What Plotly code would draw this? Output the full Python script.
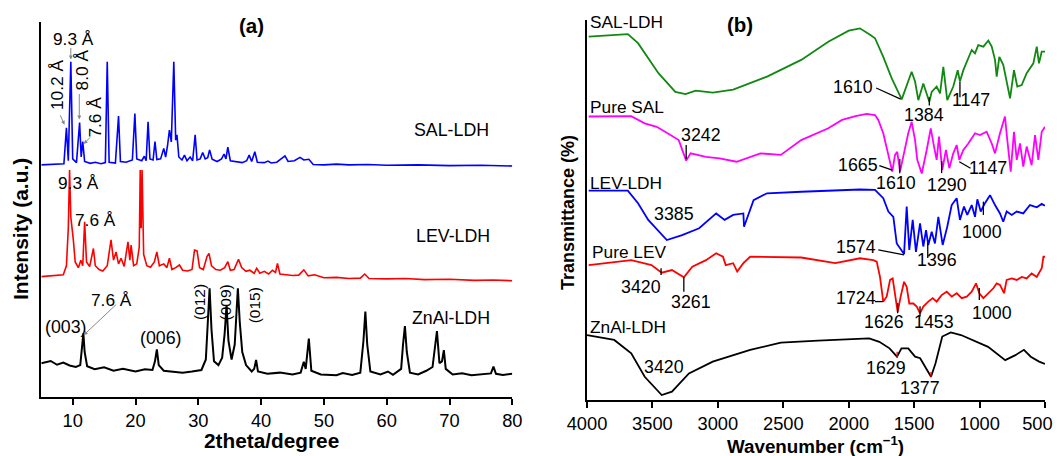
import plotly.graph_objects as go

# ---------------- Panel (a): XRD (2theta, relative intensity with offsets) ----------------
sal_ldh_x = [5, 8.6, 9.0, 9.3, 9.7, 10.0, 10.6, 11.1, 11.35, 11.6, 11.9, 12.8, 13.6, 14.5, 15.2, 15.5, 15.8,
             16.8, 17.3, 17.6, 18.5, 19.5, 19.9, 20.2, 21.0, 21.4, 21.7, 22.0, 22.3, 22.8, 23.1, 23.4, 24.0,
             24.5, 24.8, 25.1, 25.4, 25.7, 26.1, 26.4, 26.6, 26.9, 27.4, 27.8, 28.2, 28.7, 29.1, 29.5, 29.8,
             30.3, 30.7, 31.1, 31.5, 31.8, 32.2, 33.0, 33.7, 34.1, 34.4, 34.7, 35.1, 36.0, 37.0, 37.7, 38.1,
             38.5, 39.0, 39.4, 40.5, 41.1, 41.6, 42.5, 43.8, 44.3, 45.3, 46.2, 46.8, 47.6, 48.3, 50, 52, 54,
             57, 60, 65, 70, 75, 80]
sal_ldh_y = [61.9, 62.2, 71.8, 63.0, 89.4, 63.5, 62.5, 73.2, 64.0, 68.1, 62.8, 62.3, 62.6, 62.2, 62.5, 89.4, 62.6,
             62.4, 74.9, 62.8, 62.6, 63.2, 75.6, 63.5, 63.0, 64.2, 63.0, 73.4, 63.5, 63.2, 68.1, 63.3, 63.5,
             66.3, 64.0, 67.0, 71.2, 68.0, 89.4, 68.5, 69.9, 64.0, 63.2, 64.5, 63.0, 64.0, 63.0, 69.9, 63.2,
             63.5, 65.2, 63.5, 63.8, 65.9, 63.4, 62.8, 63.5, 64.8, 63.5, 66.6, 63.0, 62.8, 62.5, 63.0, 64.5,
             62.8, 65.4, 62.6, 62.5, 62.9, 62.4, 62.6, 64.3, 62.8, 63.0, 63.9, 63.2, 63.4, 62.0, 61.9, 62.1, 61.9,
             62.0, 61.8, 61.9, 61.7, 61.8, 61.6]

lev_ldh_x = [5, 7, 8.5, 9.0, 9.3, 9.5, 9.7, 10.1, 10.4, 10.9, 11.3, 11.6, 11.9, 12.2, 12.7, 13.3, 13.6, 14.2,
             14.8, 15.5, 16.1, 16.5, 16.9, 17.3, 17.7, 18.2, 18.8, 19.1, 19.3, 19.7, 20.2, 20.6, 20.75, 20.9,
             21.05, 21.3, 21.8, 22.4, 23.0, 23.4, 23.8, 24.5, 25.0, 25.4, 25.8, 26.4, 27.0, 27.5, 28.3, 29.0,
             29.4, 29.8, 30.2, 30.8, 31.4, 31.7, 32.1, 32.8, 33.5, 34.2, 34.7, 35.1, 35.7, 36.4, 36.9, 37.6,
             38.2, 38.9, 39.3, 39.8, 40.5, 41.2, 41.8, 42.3, 42.6, 43.0, 44.0, 45.0, 46.0, 46.8, 47.5, 48.5,
             50, 52, 54, 55.8, 56.5, 57.2, 60, 63, 66, 70, 74, 77, 80]
lev_ldh_y = [32.1, 32.3, 32.6, 35.0, 45.0, 60.5, 48.0, 41.9, 36.0, 34.5, 36.5, 35.0, 46.7, 36.0, 34.8, 39.6, 35.0, 34.0,
             33.6, 35.0, 41.9, 36.5, 38.7, 35.5, 37.0, 34.8, 41.4, 36.5, 40.5, 35.0, 35.5, 40.0, 60.5, 45.0,
             60.5, 38.0, 35.0, 34.6, 36.0, 38.7, 35.0, 35.5, 34.5, 37.0, 34.0, 34.5, 35.2, 33.8, 33.6, 34.0,
             39.2, 39.0, 34.5, 34.0, 37.5, 38.3, 35.0, 34.0, 33.8, 34.5, 36.1, 33.8, 34.0, 36.7, 34.5, 33.5,
             33.8, 33.0, 34.3, 33.0, 33.5, 32.8, 33.8, 33.2, 35.6, 32.8, 32.6, 32.4, 32.5, 33.9, 32.3, 32.6,
             31.8, 31.9, 31.6, 31.7, 32.8, 31.6, 31.5, 31.6, 31.3, 31.4, 31.1, 31.2, 31.0]

znal_x = [5, 6.5, 7.5, 8.5, 9.5, 10.5, 11.2, 11.5, 11.7, 11.9, 12.3, 13.5, 15, 16.5, 18, 20, 21.5, 22.7, 23.1,
          23.4, 23.7, 24.5, 26, 27.5, 29, 30.5, 31.2, 31.5, 31.8, 32.1, 32.5, 33.2, 33.8, 34.2, 34.5, 34.8,
          35.3, 35.8, 36.1, 36.3, 36.6, 37.0, 37.6, 38.5, 38.9, 39.2, 39.5, 41, 43, 45, 46.3, 46.8, 47.1,
          47.6, 48.0, 49.5, 52, 53, 54.5, 55.8, 56.3, 56.6, 56.9, 57.4, 59, 60.2, 61, 62.3, 62.6, 62.9, 63.2,
          63.7, 65, 66.3, 67.3, 67.7, 68.0, 68.4, 68.8, 69.1, 69.4, 70.5, 72, 73.5, 75, 76.6, 77.0, 77.4,
          78.5, 80]
znal_y = [9.0, 9.6, 8.6, 9.2, 8.4, 8.0, 8.5, 13.0, 17.0, 12.0, 8.2, 7.4, 7.9, 7.0, 7.5, 6.8, 7.4, 7.2, 9.5,
          12.7, 8.5, 7.0, 6.8, 6.5, 6.8, 7.2, 10.0, 20.0, 29.0, 18.0, 9.5, 8.5, 10.5, 17.0, 24.5, 15.0,
          10.0, 14.0, 24.0, 29.0, 20.0, 12.0, 8.5, 6.8, 7.5, 9.9, 6.8, 6.2, 6.5, 6.0, 6.5, 9.4, 7.5,
          15.6, 7.0, 6.0, 5.8, 6.4, 5.9, 6.5, 15.0, 22.8, 14.0, 6.8, 6.0, 6.8, 5.9, 7.5, 14.0, 18.9, 12.0,
          6.5, 6.0, 7.0, 8.0, 14.0, 17.6, 9.0, 9.5, 12.5, 7.5, 6.0, 6.3, 5.8, 6.1, 6.3, 8.1, 6.2,
          5.9, 6.2]

# ---------------- Panel (b): FTIR (wavenumber, transmittance with offsets) ----------------
sal_ldh_ir_x = [3987, 3688, 3610, 3454, 3325, 3247, 3169, 3039, 2883, 2624, 2363, 2156, 2000, 1914, 1837, 1799,
                1736, 1672, 1595, 1557, 1519, 1493, 1468, 1430, 1404, 1384, 1366, 1328, 1302, 1277, 1247, 1201,
                1167, 1150, 1124, 1060, 1035, 1010, 971, 933, 907, 882, 869, 849, 819, 793, 767, 737, 712,
                678, 640, 589, 563, 546, 525, 500]
sal_ldh_ir_y = [95.6, 96.3, 93.9, 86.0, 81.1, 80.5, 81.4, 80.9, 81.7, 85.1, 89.5, 94.3, 97.2, 97.8, 96.1, 95.2,
                90.3, 84.7, 79.1, 82.5, 86.4, 83.8, 78.9, 83.3, 80.7, 78.5, 81.1, 82.5, 80.7, 87.7, 78.9, 82.5,
                86.8, 83.8, 86.8, 92.1, 91.2, 93.4, 93.0, 94.6, 93.0, 89.5, 85.1, 90.3, 88.2, 83.8, 79.4, 86.8, 82.5,
                82.9, 86.0, 88.6, 93.0, 88.6, 91.7, 91.7]

pure_sal_x = [3987, 3662, 3559, 3468, 3403, 3299, 3242, 3208, 3091, 2987, 2857, 2675, 2519, 2363, 2156, 2051,
              1948, 1914, 1863, 1799, 1774, 1736, 1697, 1667, 1646, 1629, 1608, 1570, 1545, 1519, 1493, 1476,
              1442, 1404, 1373, 1348, 1328, 1310, 1285, 1257, 1231, 1201, 1175, 1155, 1124, 1086, 1035, 997,
              946, 907, 882, 844, 806, 788, 762, 737, 716, 691, 666, 640, 602, 576, 551, 525, 500]
pure_sal_y = [74.6, 74.7, 72.8, 71.9, 70.6, 68.4, 63.0, 64.9, 64.0, 63.6, 62.7, 64.9, 64.5, 68.4, 71.5, 73.7,
              74.7, 75.0, 75.3, 75.0, 73.7, 70.2, 64.5, 60.1, 64.5, 65.3, 60.1, 65.8, 70.2, 73.2, 68.4, 63.2,
              59.6, 65.8, 71.5, 66.7, 63.2, 69.3, 60.5, 65.8, 61.0, 64.9, 67.1, 63.2, 65.8, 67.5, 70.2, 69.7,
              70.6, 67.5, 64.9, 70.2, 74.6, 68.4, 60.1, 70.6, 63.2, 67.5, 61.4, 66.7, 61.8, 69.7, 63.2, 70.6, 71.9]

lev_ldh_ir_x = [3987, 3688, 3610, 3532, 3390, 3273, 3143, 3013, 2948, 2883, 2805, 2800, 2727, 2624, 2363, 1914,
                1799, 1736, 1697, 1659, 1633, 1603, 1577, 1557, 1537, 1511, 1486, 1455, 1430, 1409, 1392, 1366,
                1341, 1315, 1282, 1247, 1213, 1175, 1150, 1119, 1094, 1060, 1035, 1017, 991, 959, 920, 882,
                844, 819, 793, 754, 716, 666, 615, 563, 525, 500]
lev_ldh_ir_y = [55.1, 55.1, 51.8, 47.4, 42.1, 43.4, 45.2, 49.1, 47.4, 48.7, 49.1, 45.6, 52.6, 54.4, 54.8, 55.4,
                55.3, 53.1, 49.6, 48.2, 41.2, 39.5, 38.4, 50.9, 39.5, 47.4, 39.0, 46.5, 40.4, 44.7, 40.8, 44.3,
                41.2, 48.2, 40.8, 45.6, 51.3, 53.1, 47.4, 50.9, 48.7, 51.3, 48.2, 52.8, 49.6, 51.8, 53.9, 51.3,
                49.1, 46.9, 49.6, 48.7, 49.6, 49.1, 51.3, 50.7, 51.6, 51.1]

pure_lev_x = [3987, 3662, 3507, 3429, 3351, 3260, 3195, 3091, 3013, 2961, 2940, 2883, 2852, 2805, 2753, 2363,
              2103, 1914, 1812, 1786, 1761, 1736, 1710, 1684, 1664, 1646, 1626, 1603, 1577, 1557, 1537, 1506,
              1480, 1455, 1430, 1392, 1358, 1328, 1290, 1251, 1213, 1175, 1137, 1098, 1060, 1027, 1002, 971,
              933, 895, 869, 844, 813, 793, 754, 716, 678, 640, 602, 563, 525, 512, 500]
pure_lev_y = [35.5, 36.8, 35.5, 33.5, 34.2, 32.3, 35.1, 36.8, 38.6, 37.7, 35.5, 36.0, 33.8, 36.0, 37.7, 37.5,
              36.0, 37.3, 36.8, 36.4, 32.4, 25.9, 27.2, 31.6, 32.0, 28.1, 23.2, 27.2, 31.1, 29.8, 25.4, 25.4,
              24.6, 22.8, 24.6, 25.9, 26.8, 25.9, 27.6, 28.5, 27.2, 28.1, 26.8, 27.2, 28.5, 30.7, 28.1, 26.8,
              28.1, 29.4, 30.7, 30.3, 28.1, 31.6, 32.0, 31.6, 32.4, 32.0, 33.3, 32.4, 34.7, 37.7, 37.7]

znal_ir_x = [4000, 3792, 3662, 3559, 3429, 3351, 3221, 3039, 2753, 2519, 2234, 1844, 1766, 1688, 1631, 1597,
             1545, 1493, 1454, 1402, 1371, 1337, 1285, 1220, 1142, 935, 804, 726, 661, 609, 545, 500]
znal_ir_y = [17.1, 15.8, 12.3, 6.1, 1.3, 2.2, 7.0, 10.1, 13.2, 15.1, 15.6, 16.2, 15.3, 13.6, 11.4, 13.6,
             13.6, 11.4, 11.0, 7.9, 6.1, 9.6, 16.7, 17.8, 17.1, 14.0, 10.5, 11.8, 13.2, 11.4, 10.1, 9.5]

xrd_ticks = [10, 20, 30, 40, 50, 60, 70, 80]
ir_ticks = [4000, 3500, 3000, 2500, 2000, 1500, 1000, 500]
ir_tick_text = ["4000", "3500", "3000", "2500", "2000", "1500", "1000", "500\u00a0\u00a0\u00a0"]

FONT = "Arial, Liberation Sans, sans-serif"
OFF = 8  # page body offset
W, H = 1062 - OFF, 456 - OFF

def px_x(p):
    return (p - OFF) / W

def px_y(p):
    return 1 - (p - OFF) / H

fig = go.Figure()
fig.add_trace(go.Scatter(x=sal_ldh_x, y=sal_ldh_y, mode="lines", line=dict(color="#0000ff", width=1.6), xaxis="x", yaxis="y"))
fig.add_trace(go.Scatter(x=lev_ldh_x, y=lev_ldh_y, mode="lines", line=dict(color="#ff0000", width=1.6), xaxis="x", yaxis="y"))
fig.add_trace(go.Scatter(x=znal_x, y=znal_y, mode="lines", line=dict(color="#000000", width=2.0), xaxis="x", yaxis="y"))

fig.add_trace(go.Scatter(x=sal_ldh_ir_x, y=sal_ldh_ir_y, mode="lines", line=dict(color="#118811", width=1.8), xaxis="x2", yaxis="y2"))
fig.add_trace(go.Scatter(x=pure_sal_x, y=pure_sal_y, mode="lines", line=dict(color="#ff00ff", width=1.8), xaxis="x2", yaxis="y2"))
fig.add_trace(go.Scatter(x=lev_ldh_ir_x, y=lev_ldh_ir_y, mode="lines", line=dict(color="#0000ff", width=1.8), xaxis="x2", yaxis="y2"))
fig.add_trace(go.Scatter(x=pure_lev_x, y=pure_lev_y, mode="lines", line=dict(color="#ff0000", width=1.8), xaxis="x2", yaxis="y2"))
fig.add_trace(go.Scatter(x=znal_ir_x, y=znal_ir_y, mode="lines", line=dict(color="#000000", width=1.8), xaxis="x2", yaxis="y2"))

ann = []
def txt(x, y, s, ref="1", size=17.8, angle=0, bold=False, xanchor="center", color="black"):
    ax_x = "x" if ref == "1" else "x2"
    ax_y = "y" if ref == "1" else "y2"
    ann.append(dict(x=x, y=y, xref=ax_x, yref=ax_y, text=f"<b>{s}</b>" if bold else s, showarrow=False,
                    textangle=angle, xanchor=xanchor, yanchor="middle",
                    font=dict(family=FONT, size=size, color=color)))

def arrow(x, y, dx, dy):
    ann.append(dict(x=x, y=y, xref="x", yref="y", text="", showarrow=True, ax=dx, ay=dy,
                    arrowhead=2, arrowsize=0.8, arrowwidth=1, arrowcolor="#888888"))

# panel (a) labels
txt(38.5, 99.2, "(a)", size=20.5, bold=True)
txt(70.3, 71.2, "SAL-LDH")
txt(70.6, 42.9, "LEV-LDH")
txt(70.3, 21.1, "ZnAl-LDH")
txt(10.1, 95.5, "9.3 Å", size=17.3)
txt(7.5, 83.2, "10.2 Å", size=17.3, angle=-90)
txt(11.55, 87.2, "8.0 Å", size=17.3, angle=-90)
txt(13.5, 74.7, "7.6 Å", size=17.3, angle=-90)
txt(11.0, 57.1, "9.3 Å", size=17.3)
txt(13.7, 47.2, "7.6 Å", size=17.3)
txt(16.1, 25.9, "7.6 Å", size=17.3)
txt(9.0, 18.7, "(003)")
txt(24.1, 15.7, "(006)")
txt(30.1, 25.3, "(012)", size=15.5, angle=-90)
txt(34.3, 25.3, "(009)", size=15.5, angle=-90)
txt(38.9, 24.5, "(015)", size=15.5, angle=-90)
arrow(9.7, 90.0, 0, -13)
arrow(8.7, 72.6, -5, -11)
arrow(11.05, 74.0, 0, -27)
arrow(11.75, 67.5, 8, -8)
arrow(11.75, 16.5, 34, -32)

# panel (b) labels
txt(3990, 99.5, "SAL-LDH", ref="2", size=17.3, xanchor="left")
txt(2829, 98.7, "(b)", ref="2", size=20.5, bold=True)
txt(3990, 77.1, "Pure SAL", ref="2", size=17.3, xanchor="left")
txt(3990, 57.1, "LEV-LDH", ref="2", size=17.3, xanchor="left")
txt(3975, 38.9, "Pure LEV", ref="2", size=17.3, xanchor="left")
txt(3990, 19.2, "ZnAl-LDH", ref="2", size=17.3, xanchor="left")
for (w, yv, s) in [(1971, 82.4, "1610"), (1425, 75.0, "1384"), (1066, 78.9, "1147"), (3132, 69.7, "3242"),
                   (1932, 61.8, "1665"), (1636, 57.1, "1610"), (1246, 56.6, "1290"), (934, 61.1, "1147"),
                   (3335, 48.9, "3385"), (984, 44.3, "1000"), (1948, 40.3, "1574"), (1328, 36.8, "1396"),
                   (3584, 29.7, "3420"), (3202, 25.8, "3261"), (1948, 26.8, "1724"), (1727, 20.5, "1626"),
                   (1352, 20.5, "1453"), (907, 23.0, "1000"), (3413, 8.7, "3420"), (1714, 8.4, "1629"),
                   (1457, 3.2, "1377")]:
    txt(w, yv, s, ref="2")

# axis titles
ann.append(dict(x=px_x(271.5), y=px_y(440), xref="paper", yref="paper", text="<b>2theta/degree</b>",
                showarrow=False, font=dict(family=FONT, size=20.8, color="black"), xanchor="center", yanchor="middle"))
ann.append(dict(x=px_x(815), y=px_y(445), xref="paper", yref="paper", text="<b>Wavenumber (cm<sup>−1</sup>)</b>",
                showarrow=False, font=dict(family=FONT, size=18.8, color="black"), xanchor="center", yanchor="middle"))
ann.append(dict(x=px_x(20), y=px_y(229), xref="paper", yref="paper", text="<b>Intensity (a.u.)</b>",
                showarrow=False, font=dict(family=FONT, size=21, color="black"), textangle=-90, xanchor="center", yanchor="middle"))
ann.append(dict(x=px_x(568), y=px_y(213), xref="paper", yref="paper", text="<b>Transmittance (%)</b>",
                showarrow=False, font=dict(family=FONT, size=18, color="black"), textangle=-90, xanchor="center", yanchor="middle"))

# peak marker lines in panel (b)
shapes = []
def seg(x0, y0, x1, y1, color="black"):
    shapes.append(dict(type="line", xref="x2", yref="y2", x0=x0, y0=y0, x1=x1, y1=y1,
                       line=dict(color=color, width=1.3)))

seg(1790, 82.1, 1603, 79.2)
seg(1384, 79.7, 1384, 77.5)
seg(1150, 83.7, 1150, 79.7)
seg(3242, 67.1, 3242, 63.4)
seg(1766, 61.7, 1667, 60.5)
seg(1610, 63.4, 1610, 59.7)
seg(1290, 62.9, 1290, 59.7)
seg(1155, 62.7, 1069, 61.0)
seg(971, 52.2, 971, 48.7)
seg(1774, 39.5, 1577, 38.2)
seg(1396, 41.3, 1396, 37.4)
seg(3434, 34.7, 3434, 32.9)
seg(3260, 32.3, 3260, 28.5)
seg(1799, 25.9, 1736, 25.9)
seg(1626, 25.5, 1626, 22.8)
seg(1455, 24.7, 1455, 22.0)
seg(1002, 29.5, 1002, 26.3)
seg(1630, 12.7, 1630, 11.2, color="#ff0000")
seg(1371, 7.4, 1371, 6.0, color="#ff0000")

axis_common = dict(showline=True, linecolor="black", linewidth=2, ticks="outside", ticklen=6, tickwidth=1.5,
                   tickcolor="black", showgrid=False, zeroline=False, ticklabeloverflow="allow",
                   tickfont=dict(family=FONT, size=18.3, color="black"))
yaxis_common = dict(showline=True, linecolor="black", linewidth=2, showticklabels=False, ticks="",
                    showgrid=False, zeroline=False, range=[0, 100])

fig.update_layout(
    width=W, height=H,
    margin=dict(l=0, r=0, t=0, b=0, autoexpand=False),
    paper_bgcolor="white", plot_bgcolor="white",
    showlegend=False,
    xaxis=dict(domain=[px_x(41.3), px_x(512.3)], range=[5, 80], tickvals=xrd_ticks, anchor="y", automargin=False, **axis_common),
    yaxis=dict(domain=[px_y(397), px_y(22)], anchor="x", automargin=False, **yaxis_common),
    xaxis2=dict(domain=[px_x(587), px_x(1045)], range=[4000, 500], tickvals=ir_ticks, ticktext=ir_tick_text,
                anchor="y2", automargin=False, **axis_common),
    yaxis2=dict(domain=[px_y(400), px_y(20)], anchor="x2", automargin=False, **yaxis_common),
    annotations=ann,
    shapes=shapes,
)

fig.write_html("out.html")
